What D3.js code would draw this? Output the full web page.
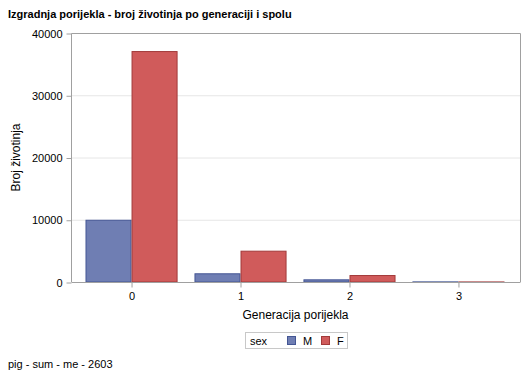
<!DOCTYPE html>
<html><head><meta charset="utf-8">
<script src="https://cdn.jsdelivr.net/npm/d3@7"></script>
<style>body{margin:0;background:#fff}svg{display:block;font-family:"Liberation Sans",Arial,sans-serif}</style>
</head><body>
<script>
const categories = ["0","1","2","3"];
const seriesNames = ["M","F"];
const valuesM = [10000, 1400, 430, 100];
const valuesF = [37100, 5030, 1120, 90];
const yTicks = [0, 10000, 20000, 30000, 40000];
const title = "Izgradnja porijekla - broj životinja po generaciji i spolu";
const footnote = "pig - sum - me - 2603";

const W = 529, H = 378;
const svg = d3.select("body").append("svg").attr("width", W).attr("height", H);
const L = 71, R = 520, T = 33, B = 282;
const colors = {M: {fill: "#6F7EB3", stroke: "#445694"}, F: {fill: "#D05B5B", stroke: "#A23A3A"}};

const x = d3.scaleBand().domain(categories).range([L + 6, R - 7]).paddingInner(0.155).paddingOuter(0.078);
const xs = d3.scaleBand().domain(seriesNames).range([0, x.bandwidth()]);
const y = d3.scaleLinear().domain([0, 40000]).range([B, T]);

// grid
svg.append("g").selectAll("line").data(yTicks.filter(d => d > 0 && d < 40000)).join("line")
  .attr("x1", L).attr("x2", R).attr("y1", d => y(d) + 0.5).attr("y2", d => y(d) + 0.5)
  .attr("stroke", "#E6E6E6");

// bars
const data = [];
categories.forEach((c, i) => { data.push({c, s: "M", v: valuesM[i]}); data.push({c, s: "F", v: valuesF[i]}); });
svg.append("g").selectAll("rect").data(data).join("rect")
  .attr("x", d => x(d.c) + xs(d.s) + 0.5)
  .attr("width", xs.bandwidth() - 1)
  .attr("y", d => y(d.v) + 0.5)
  .attr("height", d => Math.max(0.1, y(0) - y(d.v) - 0.5))
  .attr("fill", d => colors[d.s].fill)
  .attr("stroke", d => colors[d.s].stroke);

// frame
svg.append("path").attr("d", `M${L + 0.5},${B}V${T + 0.5}H${R + 0.5}V${B}`)
  .attr("fill", "none").attr("stroke", "#A0A0A0");

// y axis
const ya = svg.append("g").attr("transform", `translate(${L + 0.5},0.5)`)
  .call(d3.axisLeft(y).tickValues(yTicks).tickFormat(d3.format("d")).tickSize(5).tickPadding(4));
ya.select(".domain").remove();
ya.selectAll("line").attr("stroke", "#A0A0A0");
ya.selectAll("text").attr("font-size", 11).attr("fill", "#000").attr("font-family", "Liberation Sans, Arial, sans-serif");

// x axis
const xa = svg.append("g").attr("transform", `translate(0,${B + 0.5})`)
  .call(d3.axisBottom(x).tickSize(5).tickPadding(5));
xa.select(".domain").attr("d", `M${L + 0.5},0H${R + 0.5}`).attr("stroke", "#A0A0A0");
xa.selectAll(".tick").attr("transform", d => `translate(${x(d) + x.bandwidth() / 2 + 0.5},0)`);
xa.selectAll("line").attr("stroke", "#A0A0A0");
xa.selectAll("text").attr("font-size", 11).attr("fill", "#000").attr("font-family", "Liberation Sans, Arial, sans-serif");

// labels
svg.append("text").attr("x", 8).attr("y", 18).attr("font-size", 11).attr("font-weight", "bold").text(title);
svg.append("text").attr("transform", `translate(20,${(T + B) / 2}) rotate(-90)`).attr("text-anchor", "middle")
  .attr("font-size", 12).text("Broj životinja");
svg.append("text").attr("x", (L + R) / 2).attr("y", 319).attr("text-anchor", "middle")
  .attr("font-size", 12).text("Generacija porijekla");
svg.append("text").attr("x", 8).attr("y", 368).attr("font-size", 11).text(footnote);

// legend
const lg = svg.append("g");
lg.append("rect").attr("x", 245.5).attr("y", 332.5).attr("width", 102).attr("height", 16)
  .attr("fill", "#fff").attr("stroke", "#C8C8C8");
lg.append("text").attr("x", 250).attr("y", 345).attr("font-size", 11).text("sex");
const lx = {M: 287, F: 321};
seriesNames.forEach(s => {
  lg.append("rect").attr("x", lx[s] + 0.5).attr("y", 336.5).attr("width", 8).attr("height", 8)
    .attr("fill", colors[s].fill).attr("stroke", colors[s].stroke);
  lg.append("text").attr("x", lx[s] + 16).attr("y", 345).attr("font-size", 11).text(s);
});
</script>
</body></html>
